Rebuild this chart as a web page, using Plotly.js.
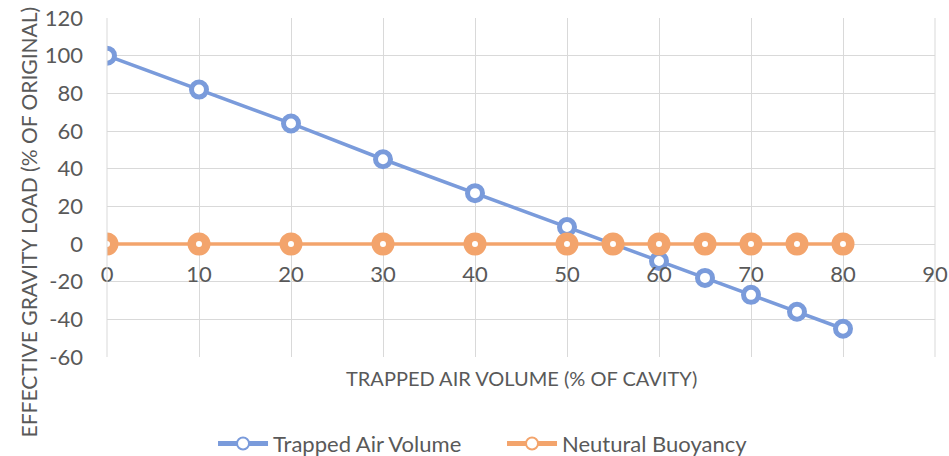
<!DOCTYPE html>
<html>
<head>
<meta charset="utf-8">
<script src="https://cdn.plot.ly/plotly-3.0.1.min.js"></script>
<style>html,body{margin:0;padding:0;background:#fff}#chart{width:949px;height:456px}</style>
</head>
<body>
<div id="chart"></div>
<script>
const airVolume = [0, 10, 20, 30, 40, 50, 55, 60, 65, 70, 75, 80];
const trappedAirLoad = [100, 82, 64, 45, 27, 9, 0, -9, -18, -27, -36, -45];
const neutralBuoyancy = [0, 0, 0, 0, 0, 0, 0, 0, 0, 0, 0, 0];
const seriesNames = ["Trapped Air Volume", "Neutural Buoyancy"];
const xTicks = [0, 10, 20, 30, 40, 50, 60, 70, 80, 90];
const yTicks = [-60, -40, -20, 0, 20, 40, 60, 80, 100, 120];

const FONT = "Lato, 'Open Sans', sans-serif";
const GRAY = "#595959";
const BLUE = "#7a9bdb";
const ORANGE = "#f3a46c";

const traces = [
  {
    x: airVolume, y: trappedAirLoad, name: seriesNames[0], type: "scatter", mode: "lines+markers",
    line: {color: BLUE, width: 3.5},
    marker: {symbol: "circle", size: 15, color: "#ffffff", line: {color: BLUE, width: 5}}
  },
  {
    x: airVolume, y: neutralBuoyancy, name: seriesNames[1], type: "scatter", mode: "lines+markers",
    line: {color: ORANGE, width: 3.5},
    marker: {symbol: "circle", size: 14.5, color: "#ffffff", line: {color: ORANGE, width: 8.5}}
  }
];

const layout = {
  width: 949, height: 456,
  margin: {l: 107, r: 14, t: 18, b: 99, autoexpand: false},
  paper_bgcolor: "#ffffff", plot_bgcolor: "#ffffff",
  font: {family: FONT, color: GRAY, size: 20},
  showlegend: true,
  legend: {orientation: "h", x: 0.529, xref: "container", xanchor: "center",
           y: 0.027, yref: "container", yanchor: "middle",
           font: {family: FONT, size: 22, color: GRAY}, itemwidth: 50, itemsizing: "constant",
           entrywidth: 224, entrywidthmode: "pixels", traceorder: "normal"},
  xaxis: {
    range: [0, 90], tickvals: xTicks, ticktext: xTicks.map(String),
    showgrid: true, gridcolor: "#d9d9d9", gridwidth: 1,
    zeroline: false, showline: false, ticks: "", ticklabelstandoff: 15,
    anchor: "free", position: 1/3,
    tickfont: {family: FONT, size: 22, color: GRAY}
  },
  yaxis: {
    range: [-60, 120], tickvals: yTicks, ticktext: yTicks.map(String),
    showgrid: true, gridcolor: "#d9d9d9", gridwidth: 1,
    zeroline: false, showline: false, ticks: "", ticklabelstandoff: 23,
    tickfont: {family: FONT, size: 22, color: GRAY}
  },
  shapes: [
    {type: "line", xref: "paper", yref: "paper", x0: 0, x1: 0, y0: 0, y1: 1, line: {color: "#d9d9d9", width: 1}},
    {type: "line", xref: "paper", yref: "paper", x0: 1, x1: 1, y0: 0, y1: 1, line: {color: "#d9d9d9", width: 1}}
  ],
  annotations: [
    {text: "TRAPPED AIR VOLUME (% OF CAVITY)", xref: "paper", yref: "paper",
     x: 0.5, y: -0.062, xanchor: "center", yanchor: "middle", showarrow: false,
     font: {family: FONT, size: 20, color: GRAY}},
    {text: "EFFECTIVE GRAVITY LOAD (% OF ORIGINAL)", xref: "paper", yref: "paper",
     x: -0.095, y: 0.398, xanchor: "center", yanchor: "middle", showarrow: false, textangle: -90,
     font: {family: FONT, size: 21, color: GRAY}}
  ]
};

Plotly.newPlot("chart", traces, layout, {displayModeBar: false, responsive: false});
</script>
</body>
</html>
